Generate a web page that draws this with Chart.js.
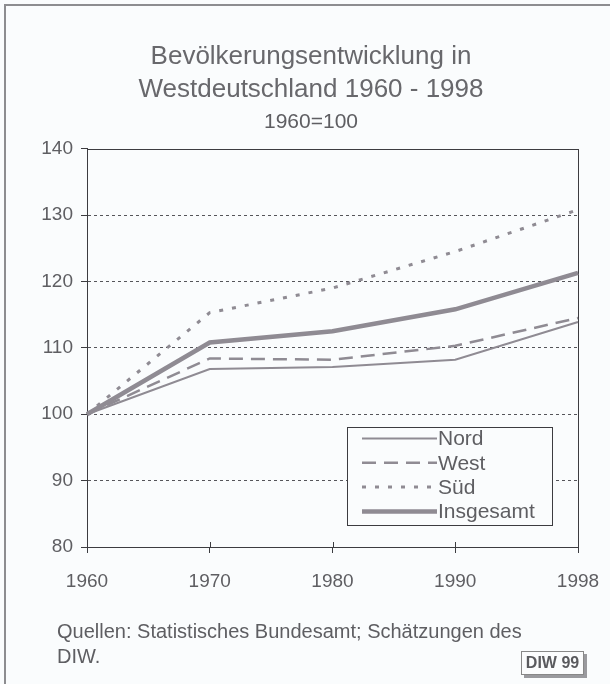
<!DOCTYPE html>
<html>
<head>
<meta charset="utf-8">
<script src="https://cdn.jsdelivr.net/npm/chart.js@4/dist/chart.umd.min.js"></script>
<style>
  html, body { margin: 0; padding: 0; background: #fafcfd; }
  #wrap { position: relative; width: 610px; height: 684px; overflow: hidden; font-family: 'Liberation Sans', Arial, sans-serif; }
  #c { position: absolute; left: 0; top: 0; }
  #bl { position: absolute; left: 4px; top: 4px; width: 2px; height: 690px; background: #8d8d90; }
  #bt { position: absolute; left: 4px; top: 4px; width: 620px; height: 2px; background: #8d8d90; }
  #foot { position: absolute; left: 57px; top: 619px; font-size: 20px; line-height: 25px; color: #5e5e62; }
  #diw { position: absolute; left: 521px; top: 651px; width: 61px; height: 22px; border: 1px solid #888; background: #fbfcfd;
         box-shadow: 3px 3px 0 #9a9a9e; font-weight: bold; font-size: 16px; line-height: 22px; text-align: center; color: #5a5a5e; }
</style>
</head>
<body>
<div id="wrap">
  <canvas id="c" width="610" height="684"></canvas>
  <div id="bl"></div><div id="bt"></div>
  <div id="foot">Quellen: Statistisches Bundesamt; Schätzungen des<br>DIW.</div>
  <div id="diw">DIW 99</div>
</div>
<script>
const years = ['1960', '1970', '1980', '1990', '1998'];
const nord = [100, 106.8, 107.1, 108.2, 113.9];
const west = [100, 108.4, 108.2, 110.3, 114.5];
const sued = [100, 115.3, 119.0, 124.5, 130.8];
const insgesamt = [100, 110.8, 112.5, 115.8, 121.3];
const seriesNames = ['Nord', 'West', 'Süd', 'Insgesamt'];
const yTicks = [80, 90, 100, 110, 120, 130, 140];
const titleLines = ['Bevölkerungsentwicklung in', 'Westdeutschland 1960 - 1998'];
const subtitleText = '1960=100';

const lineColor = '#8f8b93';
const FONT = "'Liberation Sans', Arial, sans-serif";

const frameAndLegend = {
  id: 'frameAndLegend',
  beforeDatasetsDraw(chart) {
    const a = chart.chartArea, ctx = chart.ctx;
    ctx.save();
    ctx.strokeStyle = '#3c3c40';
    ctx.lineWidth = 1;
    ctx.strokeRect(Math.round(a.left) + 0.5, Math.round(a.top) + 0.5, Math.round(a.right - a.left), Math.round(a.bottom - a.top));
    const xs = chart.scales.x;
    years.forEach((y, i) => {
      const px = Math.round(xs.getPixelForValue(i)) + 0.5;
      ctx.beginPath(); ctx.moveTo(px, a.bottom); ctx.lineTo(px, a.bottom - 5); ctx.stroke();
    });
    ctx.restore();
  },
  afterDraw(chart) {
    const ctx = chart.ctx;
    const bx = 347, by = 427, bw = 205, bh = 98;
    ctx.save();
    ctx.fillStyle = '#fafcfd';
    ctx.fillRect(bx, by, bw, bh);
    ctx.strokeStyle = '#3c3c40';
    ctx.lineWidth = 1;
    ctx.strokeRect(bx + 0.5, by + 0.5, bw, bh);
    chart.data.datasets.forEach((ds, i) => {
      const y = by + 11.5 + i * 24.3;
      ctx.strokeStyle = ds.borderColor;
      ctx.lineWidth = ds.borderWidth;
      ctx.setLineDash(ds.borderDash || []);
      ctx.beginPath(); ctx.moveTo(362, y); ctx.lineTo(437, y); ctx.stroke();
      ctx.setLineDash([]);
      ctx.fillStyle = '#5e5e62';
      ctx.font = '21px ' + FONT;
      ctx.textBaseline = 'middle';
      ctx.fillText(ds.label, 438, y + 1);
    });
    ctx.restore();
  }
};

new Chart(document.getElementById('c'), {
  type: 'line',
  data: {
    labels: years,
    datasets: [
      { label: seriesNames[0], data: nord, borderColor: lineColor, borderWidth: 2, borderDash: [] },
      { label: seriesNames[1], data: west, borderColor: lineColor, borderWidth: 2.5, borderDash: [14, 8] },
      { label: seriesNames[2], data: sued, borderColor: lineColor, borderWidth: 3, borderDash: [4, 9] },
      { label: seriesNames[3], data: insgesamt, borderColor: lineColor, borderWidth: 4.5, borderDash: [] }
    ]
  },
  options: {
    responsive: false,
    animation: false,
    devicePixelRatio: 1,
    elements: { point: { radius: 0 }, line: { tension: 0, fill: false, borderCapStyle: 'butt' } },
    layout: { padding: { left: 12, right: 0, top: 0, bottom: 92 } },
    plugins: {
      legend: { display: false },
      tooltip: { enabled: false },
      title: {
        display: true, text: titleLines, color: '#68686c',
        font: { family: FONT, size: 26, weight: 'normal', lineHeight: 1.28 },
        padding: { top: 40, bottom: 0 }
      },
      subtitle: {
        display: true, text: subtitleText, color: '#5e5e62',
        font: { family: FONT, size: 21, weight: 'normal', lineHeight: 1.1 },
        padding: { top: 4, bottom: 15 }
      }
    },
    scales: {
      x: {
        type: 'category', offset: false,
        grid: { display: true, drawOnChartArea: false, drawTicks: true, tickLength: 6, tickColor: '#3c3c40' },
        border: { display: true, color: '#3c3c40', width: 1 },
        ticks: { color: '#5e5e62', font: { family: FONT, size: 19 }, padding: 17, maxRotation: 0, autoSkip: false },
        afterFit(s) { s.height = 45; s.paddingRight = 0; s.paddingLeft = 0; }
      },
      y: {
        min: 80, max: 140,
        afterBuildTicks(s) { s.ticks = yTicks.map(v => ({ value: v })); },
        grid: {
          color: ctx => (ctx.tick && (ctx.tick.value === 80 || ctx.tick.value === 140)) ? 'rgba(0,0,0,0)' : '#55555a',
          lineWidth: 1, tickLength: 6, tickColor: '#3c3c40'
        },
        border: { display: true, color: '#3c3c40', width: 1, dash: [3, 3] },
        ticks: { color: '#5e5e62', font: { family: FONT, size: 19 }, padding: 8 },
        afterFit(s) { s.width = 75; }
      },
      yRight: {
        position: 'right', min: 80, max: 140, display: true,
        grid: { display: false, drawTicks: false },
        border: { display: false },
        ticks: { display: false },
        afterFit(s) { s.width = 32; s.paddingTop = 0; s.paddingBottom = 0; }
      }
    }
  },
  plugins: [frameAndLegend]
});
</script>
</body>
</html>
